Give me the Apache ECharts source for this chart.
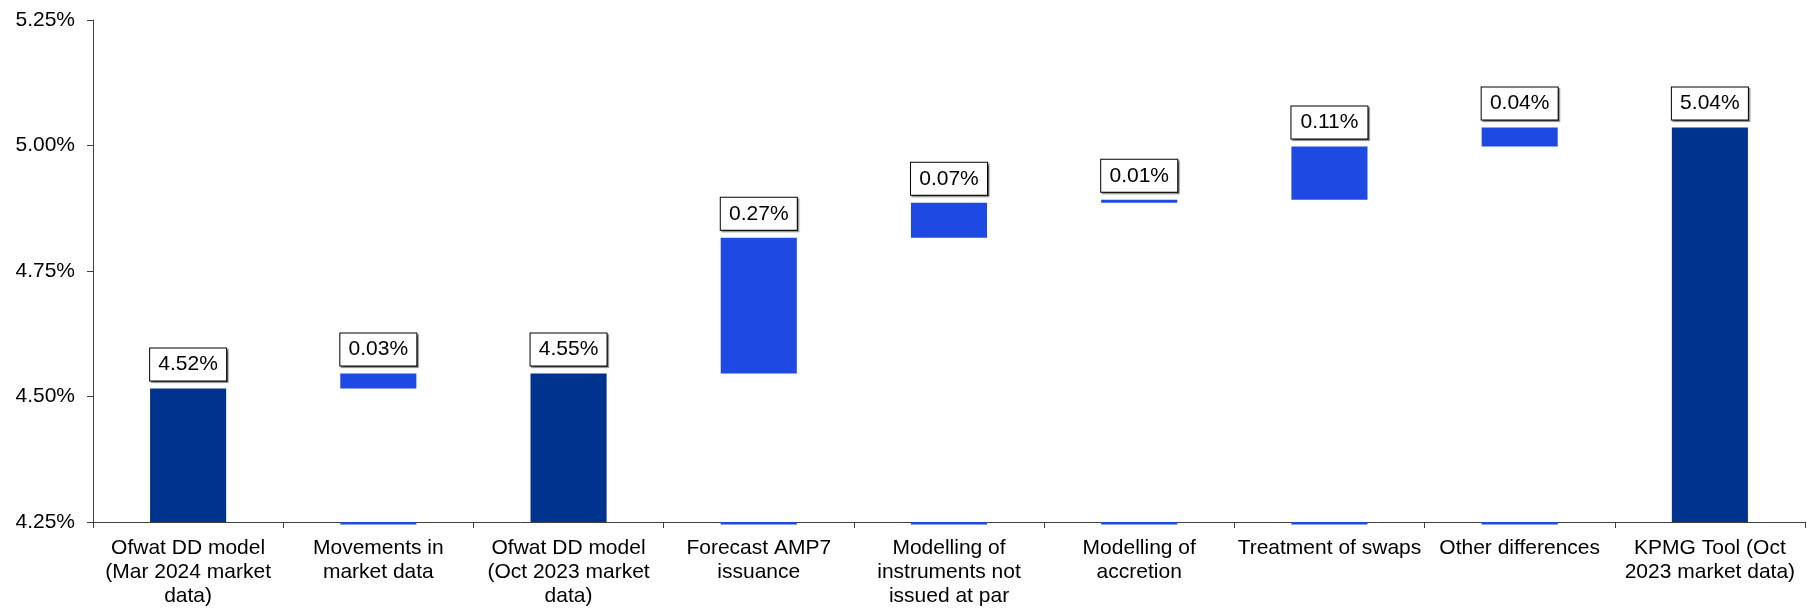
<!DOCTYPE html>
<html>
<head>
<meta charset="utf-8">
<script src="https://cdn.jsdelivr.net/npm/echarts@6/dist/echarts.min.js"></script>
<style>
  html, body { margin: 0; padding: 0; background: #ffffff; }
  #chart { width: 1807px; height: 608px; }
</style>
</head>
<body>
<div id="chart"></div>
<script>
// Cost of debt bridge: Ofwat DD model to KPMG tool
const categories = [
  'Ofwat DD model\n(Mar 2024 market\ndata)',
  'Movements in\nmarket data',
  'Ofwat DD model\n(Oct 2023 market\ndata)',
  'Forecast AMP7\nissuance',
  'Modelling of\ninstruments not\nissued at par',
  'Modelling of\naccretion',
  'Treatment of swaps',
  'Other differences',
  'KPMG Tool (Oct\n2023 market data)'
];
// 'total' bars rise from the axis, 'step' bars float on the running total
const kinds = ['total', 'step', 'total', 'step', 'step', 'step', 'step', 'step', 'total'];
const values = [4.516, 0.030, 4.546, 0.270, 0.070, 0.006, 0.106, 0.038, 5.036];
const yMin = 4.25;
const yMax = 5.25;
const yStep = 0.25;

const NAVY = '#00338D';
const COBALT = '#1E49E2';
const FONT = '"Liberation Sans", Arial, sans-serif';

// Invisible offsets that lift each step bar onto the running total
const bases = [];
let running = 0;
values.forEach(function (v, i) {
  if (kinds[i] === 'total') { bases.push(0); running = v; }
  else { bases.push(running); running += v; }
});

const stepIdx = [];
kinds.forEach(function (k, i) { if (k === 'step') stepIdx.push([i, yMin]); });

const chart = echarts.init(document.getElementById('chart'), null, { renderer: 'canvas' });

chart.setOption({
  animation: false,
  backgroundColor: '#ffffff',
  textStyle: { fontFamily: FONT },
  grid: { left: 93, right: 2, top: 20, bottom: 86, containLabel: false },
  xAxis: {
    type: 'category',
    data: categories,
    axisLine: { lineStyle: { color: '#404040', width: 1 } },
    axisTick: { show: true, length: 6, lineStyle: { color: '#404040' } },
    axisLabel: {
      interval: 0,
      margin: 14,
      color: '#000000',
      fontSize: 21,
      lineHeight: 24,
      fontFamily: FONT
    },
    splitLine: { show: false }
  },
  yAxis: {
    type: 'value',
    min: yMin,
    max: yMax,
    interval: yStep,
    axisLine: { show: true, lineStyle: { color: '#404040', width: 1 } },
    axisTick: { show: true, length: 6, lineStyle: { color: '#404040' } },
    axisLabel: {
      margin: 18,
      color: '#000000',
      fontSize: 21,
      fontFamily: FONT,
      formatter: function (v) { return v.toFixed(2) + '%'; }
    },
    splitLine: { show: false }
  },
  series: [
    {
      name: 'base',
      type: 'bar',
      stack: 'bridge',
      barWidth: '40%',
      silent: true,
      itemStyle: { color: 'rgba(0,0,0,0)' },
      data: bases
    },
    {
      name: 'value',
      type: 'bar',
      stack: 'bridge',
      barWidth: '40%',
      data: values.map(function (v, i) {
        return { value: v, itemStyle: { color: kinds[i] === 'total' ? NAVY : COBALT } };
      }),
      label: {
        show: true,
        position: 'top',
        distance: 8,
        color: '#000000',
        fontSize: 21,
        fontFamily: FONT,
        lineHeight: 22,
        width: 60,
        align: 'center',
        padding: [5, 8, 5, 8],
        backgroundColor: '#ffffff',
        borderColor: '#000000',
        borderWidth: 1,
        shadowColor: 'rgba(0,0,0,0.45)',
        shadowOffsetX: 1.5,
        shadowOffsetY: 1.5,
        shadowBlur: 1,
        formatter: function (p) { return values[p.dataIndex].toFixed(2) + '%'; }
      }
    },
    {
      // small cobalt foot under each floating bar along the axis
      name: 'foot',
      type: 'custom',
      silent: true,
      z: 1,
      data: stepIdx,
      renderItem: function (params, api) {
        const pt = api.coord([api.value(0), api.value(1)]);
        const w = api.size([1, 0])[0] * 0.4;
        return {
          type: 'rect',
          shape: { x: pt[0] - w / 2, y: pt[1], width: w, height: 2.5 },
          style: { fill: COBALT }
        };
      }
    }
  ]
});
</script>
</body>
</html>
